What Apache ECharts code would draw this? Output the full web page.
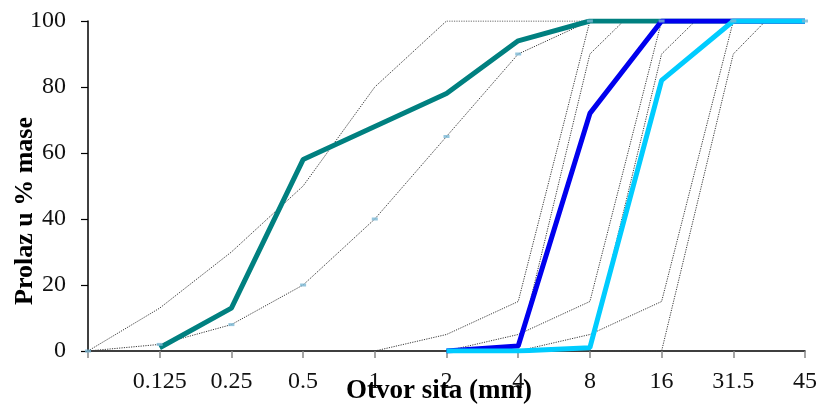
<!DOCTYPE html>
<html>
<head>
<meta charset="utf-8">
<script src="https://cdn.jsdelivr.net/npm/echarts@6/dist/echarts.min.js"></script>
<style>
html,body{margin:0;padding:0;background:#fff;}
#chart{width:820px;height:409px;}
</style>
</head>
<body>
<div id="chart"></div>
<script>
// Sieve opening tick labels (position index = array index)
const sieveLabels = ['', '0.125', '0.25', '0.5', '1', '2', '4', '8', '16', '31.5', '45'];
const yTicks = [0, 20, 40, 60, 80, 100];

// Measured grading curves (passing %), one value per sieve position
const sand0_4   = [null, 1, 13, 58, 68, 78, 94, 100, 100, 100, 100];
const gravel4_8 = [null, null, null, null, null, 0, 1.5, 72, 100, 100, 100];
const gravel8_16 = [null, null, null, null, null, 0, 0, 1, 82, 100, 100];

// Limit curves for sand
const sandUpper = [0, 13, 30, 50, 80, 100, 100, 100, 100, 100, 100];
const sandLower = [0, 2, 8, 20, 40, 65, 90, 100, 100, 100, 100];

// Limit curves for coarse fractions: [sieve position, passing %]
const upper4_8   = [[4, 0], [5, 5], [6, 15], [7, 100], [10, 100]];
const lower4_8   = [[5, 0], [6, 0], [7, 90], [7.47, 100], [10, 100]];
const upper8_16  = [[5, 0], [6, 5], [7, 15], [8, 100], [10, 100]];
const lower8_16  = [[6, 0], [7, 0], [8, 90], [8.47, 100], [10, 100]];
const upper16_31 = [[6, 0], [7, 5], [8, 15], [9, 100], [10, 100]];
const lower16_31 = [[7, 0], [8, 0], [9, 90], [9.45, 100], [10, 100]];

const toPairs = arr => arr.map((v, i) => v === null ? null : [i, v]).filter(p => p !== null);

const FONT = 'Liberation Serif';
const thin = {color: '#3a3a3a', width: 1, type: [1.2, 1.2]};

function thinSeries(data) {
  return {type: 'line', data: data, showSymbol: false, symbol: 'none', lineStyle: thin, z: 2, silent: true};
}
function thickSeries(data, color, z) {
  return {type: 'line', data: data, symbol: 'none', lineStyle: {color: color, width: 5}, z: z, silent: true};
}

const chart = echarts.init(document.getElementById('chart'), null, {renderer: 'canvas'});
chart.setOption({
  animation: false,
  backgroundColor: '#fff',
  grid: {left: 88, right: 13, top: 21, bottom: 58, containLabel: false},
  xAxis: {
    type: 'value', min: 0, max: sieveLabels.length - 1, interval: 1,
    axisLine: {lineStyle: {color: '#000', width: 1.5}},
    axisTick: {length: 7, lineStyle: {color: '#888', width: 1.5}},
    axisLabel: {
      formatter: v => sieveLabels[v] || '',
      fontFamily: FONT, fontSize: 24, color: '#111', margin: 19
    },
    splitLine: {show: false}
  },
  yAxis: {
    type: 'value', min: yTicks[0], max: yTicks[yTicks.length - 1], interval: 20,
    axisLine: {show: true, lineStyle: {color: '#000', width: 1.5}},
    axisTick: {show: true, length: 7, lineStyle: {color: '#000', width: 1.2}},
    axisLabel: {fontFamily: FONT, fontSize: 24, color: '#111', margin: 22},
    splitLine: {show: false}
  },
  graphic: [
    {type: 'text', x: 439, y: 391, z: 100,
     style: {text: 'Otvor sita (mm)', font: 'bold 27px "Liberation Serif"', fill: '#000', textAlign: 'center', textVerticalAlign: 'middle'}},
    {type: 'text', x: 25, y: 211, rotation: Math.PI / 2, z: 100,
     style: {text: 'Prolaz u % mase', font: 'bold 26px "Liberation Serif"', fill: '#000', textAlign: 'center', textVerticalAlign: 'middle'}}
  ],
  series: [
    thinSeries(toPairs(sandUpper)),
    thinSeries(toPairs(sandLower)),
    thinSeries(upper4_8),
    thinSeries(lower4_8),
    thinSeries(upper8_16),
    thinSeries(lower8_16),
    thinSeries(upper16_31),
    thinSeries(lower16_31),
    thickSeries(toPairs(sand0_4), '#008080', 5),
    thickSeries(toPairs(gravel4_8), '#0000ee', 6),
    thickSeries(toPairs(gravel8_16), '#00ccff', 7),
    {type: 'scatter', data: toPairs(sandLower), symbol: 'rect', symbolSize: [6, 3],
     itemStyle: {color: '#7ab8d4'}, z: 10, silent: true}
  ]
});
</script>
</body>
</html>
